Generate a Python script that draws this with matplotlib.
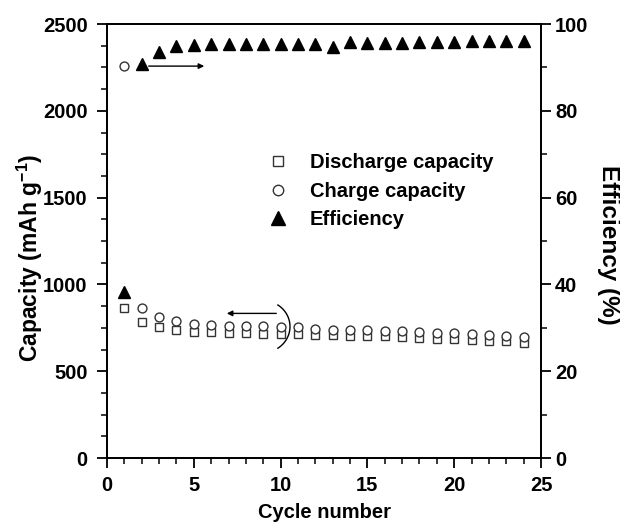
import matplotlib
matplotlib.use("Agg")
import numpy as np
import matplotlib.pyplot as plt
from matplotlib.lines import Line2D
from matplotlib.ticker import MultipleLocator

plt.rcParams["font.family"] = ["Liberation Sans", "DejaVu Sans"]
plt.rcParams["font.weight"] = "bold"
plt.rcParams["axes.labelweight"] = "bold"
plt.rcParams["mathtext.fontset"] = "custom"
plt.rcParams["mathtext.rm"] = "Liberation Sans:bold"
plt.rcParams["mathtext.default"] = "rm"

# cycling data
cycles = list(range(1, 25))
discharge = [862, 785, 753, 737, 728, 723, 720, 718, 716, 714, 712, 708,
             706, 704, 702, 700, 697, 692, 686, 683, 680, 676, 672, 664]
charge = [2260, 866, 810, 789, 772, 765, 762, 760, 758, 756, 752, 741,
          740, 737, 736, 734, 731, 726, 720, 718, 714, 710, 705, 697]
efficiency = [38.2, 90.8, 93.5, 94.9, 95.2, 95.3, 95.4, 95.5, 95.5, 95.5, 95.5, 95.5,
              94.7, 95.8, 95.6, 95.6, 95.7, 95.8, 95.8, 95.9, 96.0, 96.0, 96.2, 96.1]

fs = 14.5

fig = plt.figure(figsize=(6.2, 5.22), dpi=100)
ax = fig.add_axes([0.1726, 0.1226, 0.70, 0.8314])
ax2 = ax.twinx()

ax.plot(cycles, discharge, ls="none", marker="s", ms=5.6, mfc="white",
        mec="#333333", mew=1.0, zorder=3)
ax.plot(cycles, charge, ls="none", marker="o", ms=6.4, mfc="white",
        mec="#333333", mew=1.0, zorder=4)
ax2.plot(cycles, efficiency, ls="none", marker="^", ms=8.6, color="black")

ax.set_xlim(0, 25)
ax.set_ylim(0, 2500)
ax2.set_ylim(0, 100)

ax.xaxis.set_major_locator(MultipleLocator(5))
ax.xaxis.set_minor_locator(MultipleLocator(1))
ax.yaxis.set_major_locator(MultipleLocator(500))
ax.yaxis.set_minor_locator(MultipleLocator(125))
ax2.yaxis.set_major_locator(MultipleLocator(20))
ax2.yaxis.set_minor_locator(MultipleLocator(10))

for a in (ax, ax2):
    for s in a.spines.values():
        s.set_linewidth(1.3)
    a.tick_params(which="major", length=7, width=1.3, labelsize=fs)
    a.tick_params(which="minor", length=4, width=1.1)
ax.tick_params(axis="y", which="both", direction="out", pad=7)
ax.tick_params(axis="x", which="both", direction="out", pad=6)
ax2.tick_params(axis="y", which="both", direction="out", pad=3)

ax.set_xlabel("Cycle number", fontsize=fs, labelpad=6)
ax.set_ylabel("Capacity (mAh g$^{-1}$)", fontsize=16.5, va="center")
ax.yaxis.set_label_coords(-0.178, 0.46)
ax2.set_ylabel("Efficiency (%)", fontsize=17.5, rotation=270, va="center")
ax2.yaxis.set_label_coords(1.156, 0.49)

# arrows pointing to the relevant axis
ax2.annotate("", xy=(5.6, 90.3), xytext=(2.4, 90.3),
             arrowprops=dict(arrowstyle="-|>", color="black", lw=1.0,
                             mutation_scale=8, shrinkA=0, shrinkB=0))
ax.annotate("", xy=(6.9, 833), xytext=(9.75, 833),
            arrowprops=dict(arrowstyle="-|>", color="black", lw=1.0,
                            mutation_scale=8, shrinkA=0, shrinkB=0))
# bracket around the cycle-10 points
t = np.radians(np.linspace(-56, 56, 60))
ax.plot(8.96 + 1.58 * np.cos(t), 757 + 150 * np.sin(t), color="black", lw=1.0)

handles = [
    Line2D([], [], ls="none", marker="s", ms=7, mfc="white", mec="#333333", mew=1.0),
    Line2D([], [], ls="none", marker="o", ms=7.5, mfc="white", mec="#333333", mew=1.0),
    Line2D([], [], ls="none", marker="^", ms=9.5, color="black"),
]
labels = ["Discharge capacity", "Charge capacity", "Efficiency"]
ax.legend(handles, labels, loc="upper left", bbox_to_anchor=(0.37, 0.703),
          bbox_transform=ax.transAxes, frameon=False, fontsize=fs,
          handlelength=1.0, handletextpad=1.1, labelspacing=0.48,
          borderpad=0, borderaxespad=0)

fig.savefig("out.png", dpi=100)
